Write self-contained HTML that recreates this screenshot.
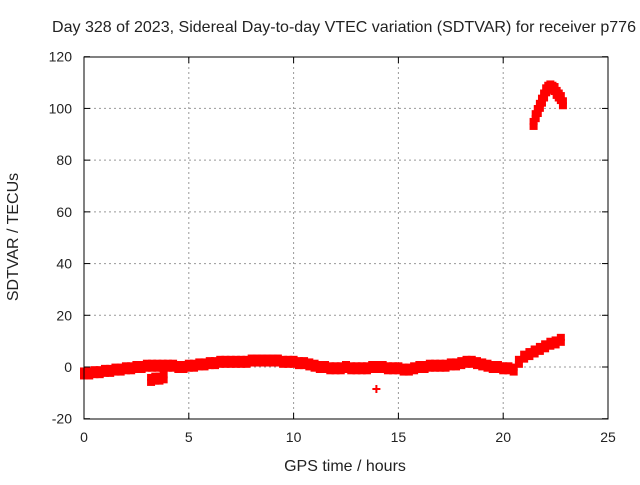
<!DOCTYPE html>
<html><head><meta charset="utf-8"><style>
body{margin:0;background:#fff;font-family:"Liberation Sans",sans-serif}
svg text{font-family:"Liberation Sans",sans-serif;font-size:14px;fill:#222}
svg text.big{font-size:16px}
</style></head><body>
<svg id="chart" width="640" height="480">
<text class="big" x="344" y="32" text-anchor="middle" textLength="584" lengthAdjust="spacingAndGlyphs">Day 328 of 2023, Sidereal Day-to-day VTEC variation (SDTVAR) for receiver p776</text>
<text class="big" x="345" y="471" text-anchor="middle">GPS time / hours</text>
<text class="big" transform="translate(18,237) rotate(-90)" text-anchor="middle">SDTVAR / TECUs</text>
<g id="grid"></g><g id="marks"></g>
<rect x="84" y="57" width="524" height="362" fill="none" stroke="#000" stroke-width="1"/>
</svg>
<script>
const xTicks=[0,5,10,15,20,25];
const yTicks=[-20,0,20,40,60,80,100,120];
const hoursStart=0, hoursStep=0.25;
const lowerBranch=[-2.5,-2.5,-2,-2,-1.5,-1.5,-1,-1,-0.5,-0.5,0,0,0.5,0.5,0.5,0.5,0.5,0.5,0,0,0.5,0.5,1,1,1.5,1.5,2,2,2,2,2,2,2.5,2.5,2.5,2.5,2.5,2.5,2,2,2,1.5,1.5,1,0.5,0,0,-0.5,-0.5,-0.5,0,-0.5,-0.5,-0.5,-0.5,0,0,0,-0.5,-0.5,-0.5,-1,-1,-0.5,0,0,0.5,0.5,0.5,0.5,1,1,1.5,2,2,1.5,1,0.5,0,0,-0.5,-0.5,-1,2,4,5,6,7,8,9,9.5,10.5];
const upperHours=[21.45,21.55,21.65,21.75,21.85,21.95,22.05,22.15,22.25,22.35,22.45,22.55,22.65,22.75,22.85];
const upperValues=[94,97,99,101,103,105,107,108,108.5,108,107.5,106,105,104,102];
const outlierHours=[3.2,3.4,3.6,3.8,13.95];
const outlierValues=[-5,-4.5,-4.5,-4,-8.5];
const NS='http://www.w3.org/2000/svg';
const X=h=>84+h*524/25, Y=v=>367-(v)*362/140;
const grid=document.getElementById('grid'), marks=document.getElementById('marks'), svg=document.getElementById('chart');
function el(t,a,p){const e=document.createElementNS(NS,t);for(const k in a)e.setAttribute(k,a[k]);p.appendChild(e);return e;}
xTicks.forEach(t=>{
  if(t>0&&t<25){const l=el('line',{x1:X(t),x2:X(t),y1:57,y2:419,stroke:'#999','stroke-dasharray':'2,3'},grid);
  
  }
  el('line',{x1:X(t),x2:X(t),y1:419,y2:413,stroke:'#000'},grid);
  el('line',{x1:X(t),x2:X(t),y1:57,y2:63,stroke:'#000'},grid);
  const tx=el('text',{x:X(t),y:442,'text-anchor':'middle'},svg);tx.textContent=t;
  
  
});
yTicks.forEach(t=>{
  if(t>-20&&t<120){const l=el('line',{x1:84,x2:608,y1:Y(t),y2:Y(t),stroke:'#999','stroke-dasharray':'2,3'},grid);
  
  }
  el('line',{x1:84,x2:90,y1:Y(t),y2:Y(t),stroke:'#000'},grid);
  el('line',{x1:608,x2:602,y1:Y(t),y2:Y(t),stroke:'#000'},grid);
  const tx=el('text',{x:72,y:Y(t)+5,'text-anchor':'end'},svg);tx.textContent=t;
  
  
});
function plus(h,v,thick){
  const g=el('g',{},marks);
  
  
  const x=X(h),y=Y(v);
  el('path',{d:`M${x-4} ${y}H${x+4}M${x} ${y-4}V${y+4}`,stroke:'#f00','stroke-width':2,fill:'none'},g);
  if(thick) el('rect',{x:x-4,y:y-6,width:8,height:12,fill:'#f00'},g);
}
lowerBranch.forEach((v,i)=>plus(hoursStart+i*hoursStep,v,true));
upperHours.forEach((h,i)=>plus(h,upperValues[i],true));
outlierHours.forEach((h,i)=>plus(h,outlierValues[i],i<4));
</script>
</body></html>
